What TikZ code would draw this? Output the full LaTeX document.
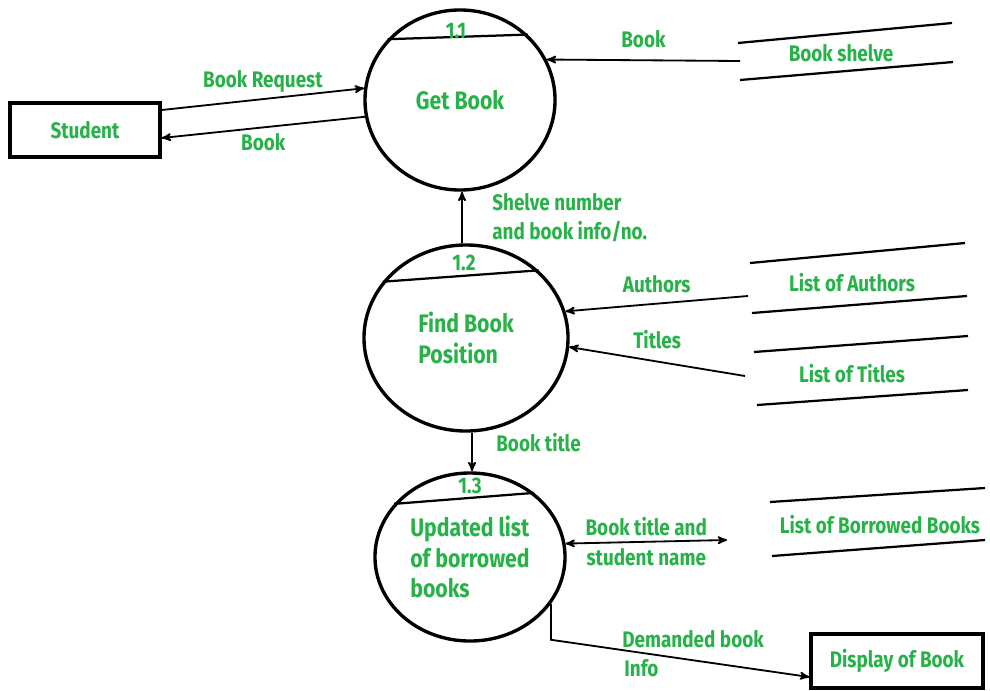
\documentclass[tikz,border=0pt]{standalone}
\usepackage{fontspec}
\setmainfont{Fira Sans}[FakeStretch=0.84]
\definecolor{DFDgreen}{RGB}{38,178,72}
\usetikzlibrary{arrows,positioning,shapes.geometric}
\tikzset{
	>=stealth',
	process/.style={
		ellipse,
		draw, line width=2.4pt,
		font=\fontsize{18}{22}\selectfont\bfseries,
		text=DFDgreen,
		align=left},
	entity/.style={
		rectangle,
		draw, line width=2.4pt,
		font=\fontsize{16}{19}\selectfont\bfseries,
		text=DFDgreen,
		minimum height=1.35cm},
	flow/.style={draw, line width=1.3pt},
	storeline/.style={draw, line width=1.6pt},
	lbl/.style={
		font=\fontsize{16}{21}\selectfont\bfseries,
		text=DFDgreen, inner sep=1pt, align=left},
}

\begin{document}
\begin{tikzpicture}[x=0.025cm, y=-0.025cm]
\useasboundingbox (0,0) rectangle (990,690);

% processes
\node[process, minimum width=4.75cm, minimum height=4.5cm] (getbook) at (460,100) {Get Book};
\node[process, minimum width=5.1cm, minimum height=4.65cm] (findpos) at (466,338) {Find Book\\Position};
\node[process, minimum width=4.75cm, minimum height=4.2cm] (update) at (470,557) {Updated list\\of borrowed\\books};

% process numbers
\draw[line width=1.6pt] (getbook.140) -- (getbook.44);
\node[lbl] (num1) at (456,31) {1.1};
\draw[line width=1.6pt] (findpos.146) -- (findpos.43);
\node[lbl] (num2) at (464,263) {1.2};
\draw[line width=1.6pt] (update.145) -- (update.45);
\node[lbl] (num3) at (470,486) {1.3};

% external entities
\node[entity, minimum width=3.75cm] (student) at (85,130) {Student};
\node[entity, minimum width=4.3cm] (display) at (897,661) {Display of Book};

% data stores
\draw[storeline] (738,43) -- (952,23);
\draw[storeline] (740,80) -- (953,62);
\node[lbl] (shelve) at (841,53) {Book shelve};
\coordinate (shelve-in) at (740,61);

\draw[storeline] (750,263) -- (965,243);
\draw[storeline] (752,313) -- (967,296);
\node[lbl] (authors) at (852,283) {List of Authors};
\coordinate (authors-in) at (748,296);

\draw[storeline] (754,352) -- (968,336);
\draw[storeline] (757,405) -- (968,390);
\node[lbl] (titles) at (852,374) {List of Titles};
\coordinate (titles-in) at (745,376);

\draw[storeline] (770,502) -- (985,488);
\draw[storeline] (772,556) -- (985,540);
\node[lbl] (borrowed) at (880,525) {List of Borrowed Books};
\coordinate (borrowed-in) at (727,540);

% flows
\draw[flow, ->] ([yshift=0.5cm]student.east) -- (getbook.173)
	node[lbl, midway, above=0.1cm] {Book Request};
\draw[flow, ->] (getbook.190) -- ([yshift=-0.2cm]student.east)
	node[lbl, midway, below=0.1cm] {Book};
\draw[flow, ->] (shelve-in) -- (getbook.25)
	node[lbl, midway, above=0.25cm] {Book};
\draw[flow, ->] (findpos.north -| 462,0) -- (getbook.south -| 462,0)
	node[lbl, midway, right=0.7cm] {Shelve number\\and book info/no.};
\draw[flow, ->] (authors-in) -- (findpos.15)
	node[lbl, midway, above=0.2cm] {Authors};
\draw[flow, ->] (titles-in) -- (findpos.355)
	node[lbl, midway, above=0.25cm] {Titles};
\draw[flow, ->] (findpos.south -| 472,0) -- (update.north -| 472,0)
	node[lbl, near start, right=0.55cm] {Book title};
\draw[flow, <->] (update.8) -- (borrowed-in)
	node[lbl, midway, above=0.1cm] {Book title and}
	node[lbl, midway, below=0.1cm] {student name};
\draw[flow, ->] (update.-30) -- ++(0,36) -- ([yshift=-0.4cm]display.west)
	node[lbl, pos=0.55, above=0.25cm] {Demanded book}
	node[lbl, pos=0.35, below=0.1cm] {Info};
\end{tikzpicture}
\end{document}
